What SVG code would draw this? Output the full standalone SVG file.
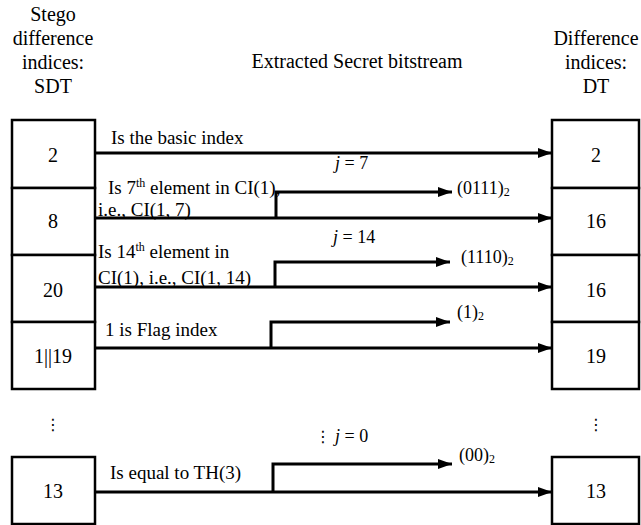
<svg xmlns="http://www.w3.org/2000/svg" width="641" height="525" viewBox="0 0 641 525" font-family="'Liberation Serif', 'DejaVu Serif', serif">
<defs>
<style>
text{font-family:'Liberation Serif','DejaVu Serif',serif;fill:#000}
.t{font-size:20px;text-anchor:middle}
.n{font-size:20px;text-anchor:middle}
.l{font-size:19px}
.j{font-size:18px}
.o{font-size:18px}
.sub{font-size:12px}
.sup{font-size:12px}
text.dots{font-family:'DejaVu Sans',sans-serif;font-size:16px;text-anchor:middle}
.box{fill:#fff;stroke:#000;stroke-width:2.5}
.ln{fill:none;stroke:#000;stroke-width:3}
</style>
<marker id="ah" viewBox="0 0 14 10" refX="14" refY="5" markerWidth="14" markerHeight="10" markerUnits="userSpaceOnUse" orient="auto">
<path d="M0,0 L14,5 L0,10 Z" fill="#000"/>
</marker>
</defs>
<rect width="641" height="525" fill="#fff"/>

<g id="title-left">
<text class="t" x="53" y="21">Stego</text>
<text class="t" x="53" y="45">difference</text>
<text class="t" x="53" y="69">indices:</text>
<text class="t" x="53" y="93">SDT</text>
</g>
<g id="title-mid">
<text class="t" x="357" y="68">Extracted Secret bitstream</text>
</g>
<g id="title-right">
<text class="t" x="596" y="45">Difference</text>
<text class="t" x="596" y="69">indices:</text>
<text class="t" x="596" y="93">DT</text>
</g>

<g id="sdt-2"><rect class="box" x="12" y="120" width="83" height="68"/><text class="n" x="53" y="162">2</text></g>
<g id="sdt-8"><rect class="box" x="12" y="188" width="83" height="67"/><text class="n" x="53" y="228">8</text></g>
<g id="sdt-20"><rect class="box" x="12" y="255" width="83" height="67"/><text class="n" x="53" y="297">20</text></g>
<g id="sdt-1-19"><rect class="box" x="12" y="322" width="83" height="67"/><text class="n" x="53" y="363">1||19</text></g>
<g id="sdt-dots"><text class="dots" x="53" y="430">⋮</text></g>
<g id="sdt-13"><rect class="box" x="12" y="457" width="83" height="67"/><text class="n" x="53" y="498">13</text></g>

<g id="dt-2"><rect class="box" x="552" y="120" width="87" height="68"/><text class="n" x="596" y="162">2</text></g>
<g id="dt-16a"><rect class="box" x="552" y="188" width="87" height="67"/><text class="n" x="596" y="228">16</text></g>
<g id="dt-16b"><rect class="box" x="552" y="255" width="87" height="67"/><text class="n" x="596" y="297">16</text></g>
<g id="dt-19"><rect class="box" x="552" y="322" width="87" height="67"/><text class="n" x="596" y="363">19</text></g>
<g id="dt-dots"><text class="dots" x="596" y="430">⋮</text></g>
<g id="dt-13"><rect class="box" x="552" y="457" width="87" height="67"/><text class="n" x="596" y="498">13</text></g>

<g id="connectors">
<path class="ln" d="M95,153 H552" marker-end="url(#ah)"/>
<path class="ln" d="M95,218 H552" marker-end="url(#ah)"/>
<path class="ln" d="M276,218 V192 H452" marker-end="url(#ah)"/>
<path class="ln" d="M95,287 H552" marker-end="url(#ah)"/>
<path class="ln" d="M275,287 V262 H450" marker-end="url(#ah)"/>
<path class="ln" d="M95,348 H552" marker-end="url(#ah)"/>
<path class="ln" d="M271,348 V322 H450" marker-end="url(#ah)"/>
<path class="ln" d="M95,492 H552" marker-end="url(#ah)"/>
<path class="ln" d="M273,492 V464 H452" marker-end="url(#ah)"/>
</g>

<g id="labels">
<text class="l" x="111" y="144">Is the basic index</text>
<text class="j" x="335" y="169"><tspan font-style="italic">j</tspan> = 7</text>
<text class="l" x="108" y="194">Is 7<tspan class="sup" dy="-7">th</tspan><tspan dy="7"> element in CI(1),</tspan></text>
<text class="l" x="98" y="216">i.e., CI(1, 7)</text>
<text class="o" x="457" y="194">(0111)<tspan class="sub" dy="2">2</tspan></text>

<text class="j" x="333" y="243"><tspan font-style="italic">j</tspan> = 14</text>
<text class="l" x="98" y="258">Is 14<tspan class="sup" dy="-7">th</tspan><tspan dy="7"> element in</tspan></text>
<text class="l" x="98" y="284">CI(1), i.e., CI(1, 14)</text>
<text class="o" x="461" y="263">(1110)<tspan class="sub" dy="2">2</tspan></text>

<text class="l" x="105" y="336">1 is Flag index</text>
<text class="o" x="457" y="318">(1)<tspan class="sub" dy="2">2</tspan></text>

<text class="dots" x="323" y="442">⋮</text>
<text class="j" x="335" y="442"><tspan font-style="italic">j</tspan> = 0</text>
<text class="o" x="459" y="461">(00)<tspan class="sub" dy="2">2</tspan></text>
<text class="l" x="110" y="479">Is equal to TH(3)</text>
</g>
</svg>
